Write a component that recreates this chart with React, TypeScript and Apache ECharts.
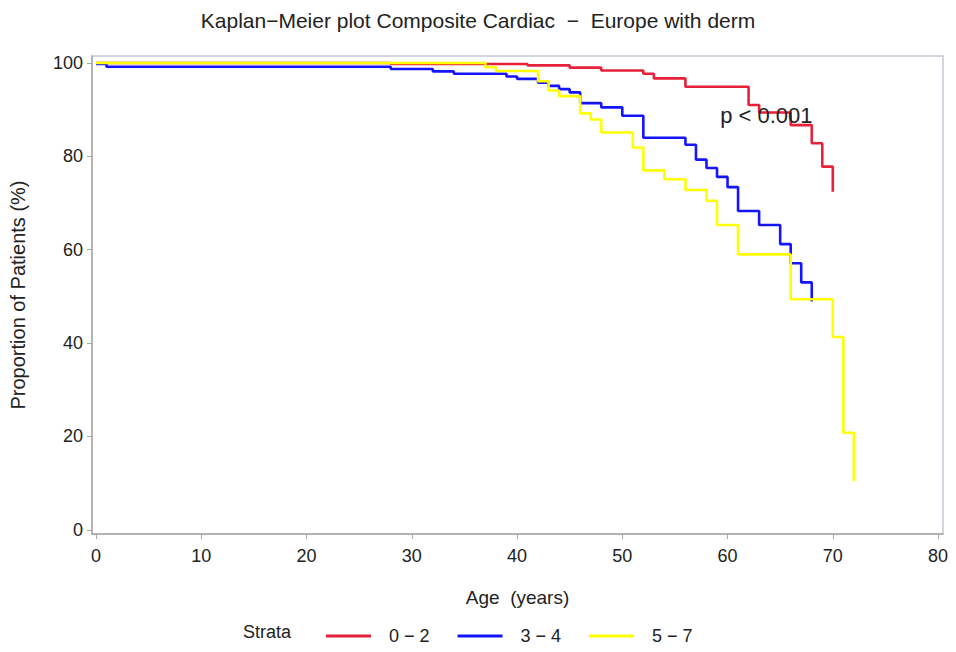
import React, { useEffect, useRef } from "react";
import * as echarts from "echarts";

const titleText = "Kaplan−Meier plot Composite Cardiac  −  Europe with derm";
const xTicks = [0, 10, 20, 30, 40, 50, 60, 70, 80];
const yTicks = [0, 20, 40, 60, 80, 100];

const strataNames = ["0 − 2", "3 − 4", "5 − 7"];

const redAge = [0, 28, 41, 45, 48, 52, 53, 56, 62, 63, 66, 68, 69, 70];
const redSurv = [100, 99.8, 99.5, 99.0, 98.4, 97.7, 96.7, 94.9, 91.0, 89.4, 86.7, 82.8, 77.8, 72.4];

const blueAge = [0, 1, 28, 32, 34, 39, 40, 42, 43, 44, 45, 46, 48, 50, 52, 56, 57, 58, 59, 60, 61, 63, 65, 66, 67, 68];
const blueSurv = [99.8, 99.2, 98.7, 98.2, 97.7, 97.1, 96.6, 95.8, 95.1, 94.4, 93.7, 91.4, 90.5, 88.7, 84.0, 82.5, 79.3, 77.5, 75.6, 73.4, 68.3, 65.3, 61.2, 57.1, 53.0, 48.9];

const yellowAge = [0, 37, 38, 42, 43, 44, 46, 47, 48, 51, 52, 54, 56, 58, 59, 61, 66, 70, 71, 72];
const yellowSurv = [100, 99.1, 98.3, 96.1, 94.1, 92.9, 89.2, 87.9, 85.1, 81.9, 77.0, 75.1, 72.8, 70.5, 65.3, 59.0, 49.4, 41.3, 20.8, 10.4];

const pText = "p < 0.001";
const pPos = [59.3, 86.4];

const colors = ["#e8203a", "#1414ff", "#ffff00"];
const FONT = "'Liberation Sans', Arial, Helvetica, sans-serif";

const zip = (a: number[], b: number[]) => a.map((v, i) => [v, b[i]]);

export default function App() {
  const ref = useRef<HTMLDivElement>(null);
  useEffect(() => {
    if (!ref.current) return;
    const chart = echarts.init(ref.current, null, { renderer: "svg" });
    const mk = (name: string, data: number[][], color: string) => ({
      name,
      type: "line",
      step: "end",
      data,
      symbol: "none",
      lineStyle: { color, width: 2.6 },
      itemStyle: { color },
      z: 3,
    });
    chart.setOption({
      animation: false,
      backgroundColor: "#ffffff",
      textStyle: { fontFamily: FONT, color: "#222" },
      title: {
        text: titleText,
        left: "center",
        top: 5,
        textStyle: { fontFamily: FONT, fontSize: 21, fontWeight: "normal", color: "#222" },
      },
      grid: {
        left: 92,
        right: 13,
        top: 56,
        bottom: 118,
        show: true,
        borderColor: "#c6c6d6",
        borderWidth: 1.5,
        backgroundColor: "transparent",
      },
      xAxis: {
        type: "value",
        min: -0.38,
        max: 80.47,
        name: "Age  (years)",
        nameLocation: "middle",
        nameGap: 54,
        nameTextStyle: { fontFamily: FONT, fontSize: 19, color: "#222" },
        axisLine: { show: true, onZero: false, lineStyle: { color: "#a8a8a8", width: 1.5 } },
        axisTick: { show: true, customValues: xTicks, length: 5, lineStyle: { color: "#a8a8a8" } },
        axisLabel: { customValues: xTicks, fontSize: 18, color: "#222", margin: 13, fontFamily: FONT },
        splitLine: { show: false },
      },
      yAxis: {
        type: "value",
        min: -0.9,
        max: 101.5,
        name: "Proportion of Patients (%)",
        nameLocation: "middle",
        nameGap: 64,
        nameTextStyle: { fontFamily: FONT, fontSize: 20, color: "#222" },
        axisLine: { show: true, onZero: false, lineStyle: { color: "#b0aaa0", width: 1.5 } },
        axisTick: { show: true, customValues: yTicks, length: 5, lineStyle: { color: "#a8a8a8" } },
        axisLabel: { customValues: yTicks, fontSize: 18, color: "#222", margin: 9, fontFamily: FONT },
        splitLine: { show: false },
      },
      legend: {
        left: 321,
        top: 622,
        itemWidth: 45,
        itemHeight: 3,
        itemGap: 28,
        icon: "rect",
        data: strataNames,
        textStyle: { fontFamily: FONT, fontSize: 18, color: "#222", padding: [0, 0, 0, 13] },
      },
      series: [
        mk(strataNames[0], zip(redAge, redSurv), colors[0]),
        mk(strataNames[1], zip(blueAge, blueSurv), colors[1]),
        mk(strataNames[2], zip(yellowAge, yellowSurv), colors[2]),
      ],
    });
    const p = chart.convertToPixel({ gridIndex: 0 }, pPos) as number[];
    chart.setOption({
      graphic: [
        {
          type: "text",
          left: 243,
          top: 623,
          style: { text: "Strata", font: `18px ${FONT}`, fill: "#222" },
        },
        {
          type: "text",
          x: p[0],
          y: p[1],
          z: 10,
          style: { text: pText, font: `22px ${FONT}`, fill: "#222", textVerticalAlign: "bottom", textAlign: "left" },
        },
      ],
    });
    return () => chart.dispose();
  }, []);
  return <div ref={ref} style={{ width: 956, height: 652, position: "absolute", left: 0, top: 0 }} />;
}
